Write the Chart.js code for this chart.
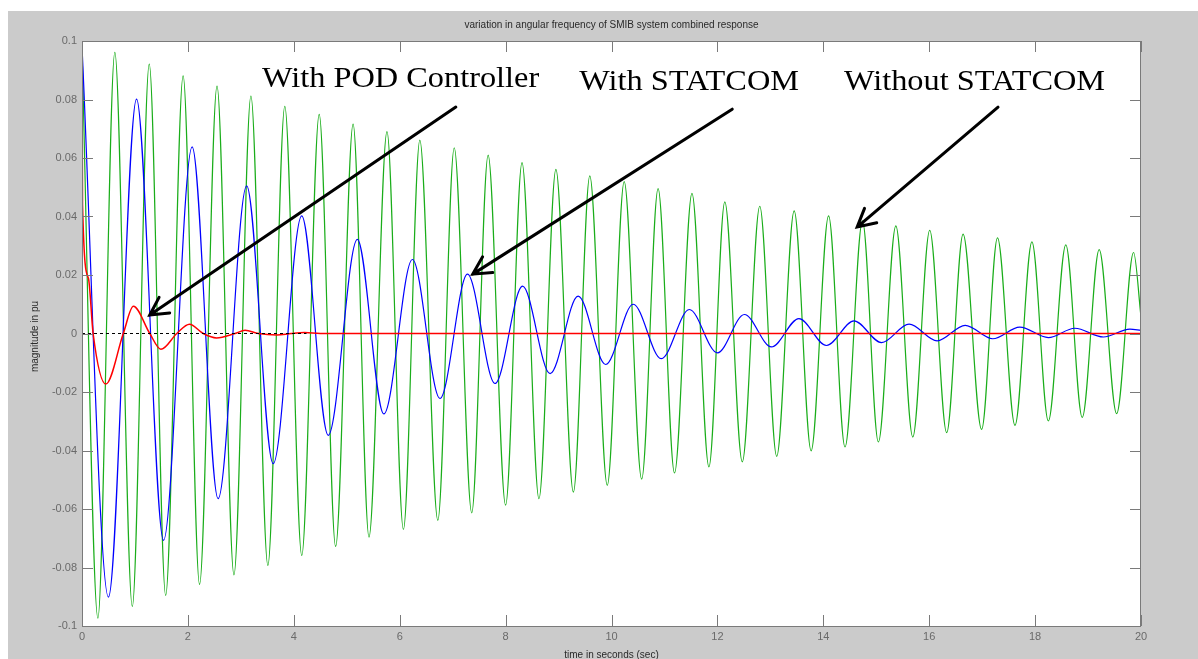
<!DOCTYPE html>
<html>
<head>
<meta charset="utf-8">
<script src="https://cdn.jsdelivr.net/npm/chart.js@4.4.1/dist/chart.umd.min.js"></script>
<style>
    html, body { margin: 0; padding: 0; background: #ffffff; }
    #wrap { width: 1198px; height: 659px; position: relative; }
</style>
</head>
<body>
<div id="wrap"><canvas id="chart" width="1198" height="659"></canvas></div>
<script>
// ========================================
// DATA (peaks, troughs, crossings)
// ========================================
const greenT = [0.00, 0.30, 0.62, 0.95, 1.27, 1.58, 1.91, 2.22, 2.55, 2.87, 3.19, 3.51, 3.83, 4.15,
    4.48, 4.79, 5.12, 5.42, 5.76, 6.07, 6.38, 6.72, 7.03, 7.36, 7.67, 8.00, 8.31, 8.63, 8.95, 9.28,
    9.59, 9.92, 10.24, 10.57, 10.88, 11.19, 11.52, 11.84, 12.14, 12.47, 12.80, 13.12, 13.45, 13.77,
    14.10, 14.41, 14.74, 15.04, 15.37, 15.69, 16.01, 16.33, 16.64, 16.99, 17.29, 17.62, 17.94, 18.25,
    18.58, 18.89, 19.21, 19.54, 19.86, 20.00];
const greenV = [0.097, -0.0973, 0.0961, -0.0933, 0.0921, -0.0895, 0.0881, -0.0858, 0.0846, -0.0825,
    0.0812, -0.0793, 0.0777, -0.0759, 0.0749, -0.0728, 0.0716, -0.0696, 0.0690, -0.0670, 0.0661,
    -0.0639, 0.0635, -0.0613, 0.0610, -0.0587, 0.0584, -0.0565, 0.0561, -0.0542, 0.0539, -0.0519,
    0.0519, -0.0498, 0.0495, -0.0477, 0.0479, -0.0456, 0.0450, -0.0439, 0.0435, -0.0420, 0.0419,
    -0.0401, 0.0402, -0.0388, 0.0385, -0.0371, 0.0368, -0.0354, 0.0353, -0.0339, 0.0340, -0.0328,
    0.0327, -0.0314, 0.0313, -0.0299, 0.0303, -0.0287, 0.0287, -0.0274, 0.0277, 0.0057];

const blueT = [0.00, 0.50, 1.03, 1.54, 2.08, 2.57, 3.11, 3.61, 4.15, 4.65, 5.20, 5.70, 6.24, 6.76,
    7.28, 7.80, 8.32, 8.84, 9.37, 9.89, 10.41, 10.94, 11.47, 12.00, 12.51, 13.02, 13.54, 14.06,
    14.58, 15.10, 15.62, 16.15, 16.68, 17.20, 17.71, 18.25, 18.75, 19.29, 19.79, 20.00];
const blueV = [0.098, -0.0901, 0.0801, -0.0707, 0.0638, -0.0565, 0.0505, -0.0445, 0.0402, -0.0348,
    0.0322, -0.0275, 0.0253, -0.0222, 0.0203, -0.0171, 0.0162, -0.0137, 0.0128, -0.0106, 0.0100,
    -0.0086, 0.0082, -0.0066, 0.0065, -0.0046, 0.0051, -0.0041, 0.0043, -0.0031, 0.0032, -0.0025,
    0.0028, -0.0018, 0.0022, -0.0014, 0.0018, -0.0012, 0.0015, 0.0011];

const redT = [0.00, 0.01, 0.12, 0.21, 0.45, 0.78, 0.97, 1.28, 1.49, 1.79, 2.03, 2.29, 2.54, 2.89,
    3.08, 3.33, 3.68, 3.95, 4.20, 4.50, 8.00, 12.00, 16.00, 20.00];
const redV = [0.100, 0.044, 0.019, 0.0, -0.0173, 0.0, 0.0093, 0.0, -0.0054, 0.0, 0.0032, 0.0,
    -0.0015, 0.0, 0.0011, 0.0, -0.0005, 0.0, 0.0003, 0.0, 0.0, 0.0, 0.0, 0.0];

const refT = [0.00, 4.24];
const refV = [0.0, 0.0];

const xTicks = [0, 2, 4, 6, 8, 10, 12, 14, 16, 18, 20];
const yTicks = [-0.1, -0.08, -0.06, -0.04, -0.02, 0, 0.02, 0.04, 0.06, 0.08, 0.1];

const titleText = 'variation in angular frequency of SMIB system combined response';
const xLabel = 'time in seconds (sec)';
const yLabel = 'magnitude in pu';

// annotation labels and arrows, in data units
const notes = [
    { text: 'With POD Controller', at: [3.40, 0.0842], from: [7.06, 0.0774], tip: [1.28, 0.0063] },
    { text: 'With STATCOM', at: [9.39, 0.0832], from: [12.28, 0.0767], tip: [7.38, 0.0203] },
    { text: 'Without STATCOM', at: [14.39, 0.0832], from: [17.30, 0.0774], tip: [14.64, 0.0364] }
];

// ========================================
// HELPERS
// ========================================
function toPoints(ts, vs) {
    return ts.map((t, i) => ({ x: t, y: vs[i] }));
}

function lineSet(label, ts, vs, color, width, order) {
    return {
        label: label,
        data: toPoints(ts, vs),
        borderColor: color,
        borderWidth: width,
        pointRadius: 0,
        tension: 0.4,
        cubicInterpolationMode: 'monotone',
        order: order
    };
}

// ========================================
// MATLAB-LIKE FRAME PLUGIN
// ========================================
const framePlugin = {
    id: 'frame',
    beforeDraw(chart) {
        const ctx = chart.ctx;
        const a = chart.chartArea;
        ctx.save();
        ctx.fillStyle = '#ffffff';
        ctx.fillRect(0, 0, chart.width, chart.height);
        ctx.fillStyle = '#cbcbcb';
        ctx.fillRect(8, 11, chart.width - 8, chart.height - 11);
        ctx.fillStyle = '#ffffff';
        ctx.fillRect(a.left, a.top, a.right - a.left, a.bottom - a.top);
        ctx.restore();
    },
    afterDatasetsDraw(chart) {
        const ctx = chart.ctx;
        const a = chart.chartArea;
        const xs = chart.scales.x;
        const ys = chart.scales.y;
        ctx.save();

        // box
        ctx.strokeStyle = '#7a7a7a';
        ctx.lineWidth = 1;
        ctx.strokeRect(a.left + 0.5, a.top + 0.5, a.right - a.left - 1, a.bottom - a.top);

        // inward ticks on all four sides
        const tl = 11;
        ctx.beginPath();
        xTicks.forEach(v => {
            const px = Math.round(xs.getPixelForValue(v)) + 0.5;
            ctx.moveTo(px, a.bottom); ctx.lineTo(px, a.bottom - tl);
            ctx.moveTo(px, a.top); ctx.lineTo(px, a.top + tl);
        });
        yTicks.forEach(v => {
            const py = Math.round(ys.getPixelForValue(v)) + 0.5;
            ctx.moveTo(a.left, py); ctx.lineTo(a.left + tl, py);
            ctx.moveTo(a.right, py); ctx.lineTo(a.right - tl, py);
        });
        ctx.stroke();

        // title and axis labels
        ctx.fillStyle = '#2a2a2a';
        ctx.font = '10px "Liberation Sans", Arial, sans-serif';
        ctx.textAlign = 'center';
        ctx.textBaseline = 'middle';
        ctx.fillText(titleText, (a.left + a.right) / 2, 25);
        ctx.fillText(xLabel, (a.left + a.right) / 2, 655);
        ctx.save();
        ctx.translate(35, (a.top + a.bottom) / 2 + 3);
        ctx.rotate(-Math.PI / 2);
        ctx.fillText(yLabel, 0, 0);
        ctx.restore();

        // annotations (the source text is a little wider than the font)
        ctx.fillStyle = '#000000';
        ctx.strokeStyle = '#000000';
        ctx.font = '29px "Liberation Serif", "Times New Roman", serif';
        ctx.textAlign = 'left';
        ctx.textBaseline = 'alphabetic';
        ctx.lineWidth = 3;
        ctx.lineCap = 'round';
        notes.forEach(n => {
            const tx = xs.getPixelForValue(n.at[0]);
            const ty = ys.getPixelForValue(n.at[1]);
            ctx.save();
            ctx.translate(tx, ty);
            ctx.scale(1.115, 1);
            ctx.fillText(n.text, 0, 0);
            ctx.restore();

            const x0 = xs.getPixelForValue(n.from[0]), y0 = ys.getPixelForValue(n.from[1]);
            const x1 = xs.getPixelForValue(n.tip[0]), y1 = ys.getPixelForValue(n.tip[1]);
            const ang = Math.atan2(y0 - y1, x0 - x1);
            const head = 20, spread = 0.49;
            ctx.beginPath();
            ctx.moveTo(x0, y0); ctx.lineTo(x1, y1);
            ctx.moveTo(x1 + head * Math.cos(ang - spread), y1 + head * Math.sin(ang - spread));
            ctx.lineTo(x1, y1);
            ctx.lineTo(x1 + head * Math.cos(ang + spread), y1 + head * Math.sin(ang + spread));
            ctx.stroke();
        });
        ctx.restore();
    }
};

// ========================================
// CHART
// ========================================
const tickFont = { family: '"Liberation Sans", Arial, sans-serif', size: 11 };

new Chart(document.getElementById('chart').getContext('2d'), {
    type: 'line',
    data: {
        datasets: [
            {
                label: 'reference',
                data: toPoints(refT, refV),
                borderColor: '#000000',
                borderWidth: 1,
                borderDash: [3, 3],
                pointRadius: 0,
                order: 0
            },
            lineSet('With POD Controller', redT, redV, '#ff0000', 1.5, 1),
            lineSet('With STATCOM', blueT, blueV, '#0000ff', 1.2, 2),
            lineSet('Without STATCOM', greenT, greenV, '#1aad1a', 1.2, 3)
        ]
    },
    options: {
        responsive: false,
        animation: false,
        layout: { padding: { left: 0, top: 41, right: 57, bottom: 0 } },
        plugins: {
            legend: { display: false },
            tooltip: { enabled: false }
        },
        scales: {
            x: {
                type: 'linear',
                min: 0,
                max: 20,
                afterBuildTicks: s => { s.ticks = xTicks.map(v => ({ value: v })); },
                afterFit: s => { s.height = 33; },
                grid: { display: false, drawTicks: false },
                border: { display: false },
                ticks: {
                    color: '#6a6a6a',
                    font: tickFont,
                    padding: 4,
                    maxRotation: 0,
                    callback: v => String(v)
                }
            },
            y: {
                type: 'linear',
                min: -0.1,
                max: 0.1,
                afterBuildTicks: s => { s.ticks = yTicks.map(v => ({ value: v })); },
                afterFit: s => { s.width = 82; },
                grid: { display: false, drawTicks: false },
                border: { display: false },
                ticks: {
                    color: '#6a6a6a',
                    font: tickFont,
                    padding: 5,
                    callback: v => String(Number(v.toFixed(2)))
                }
            }
        }
    },
    plugins: [framePlugin]
});
</script>
</body>
</html>
